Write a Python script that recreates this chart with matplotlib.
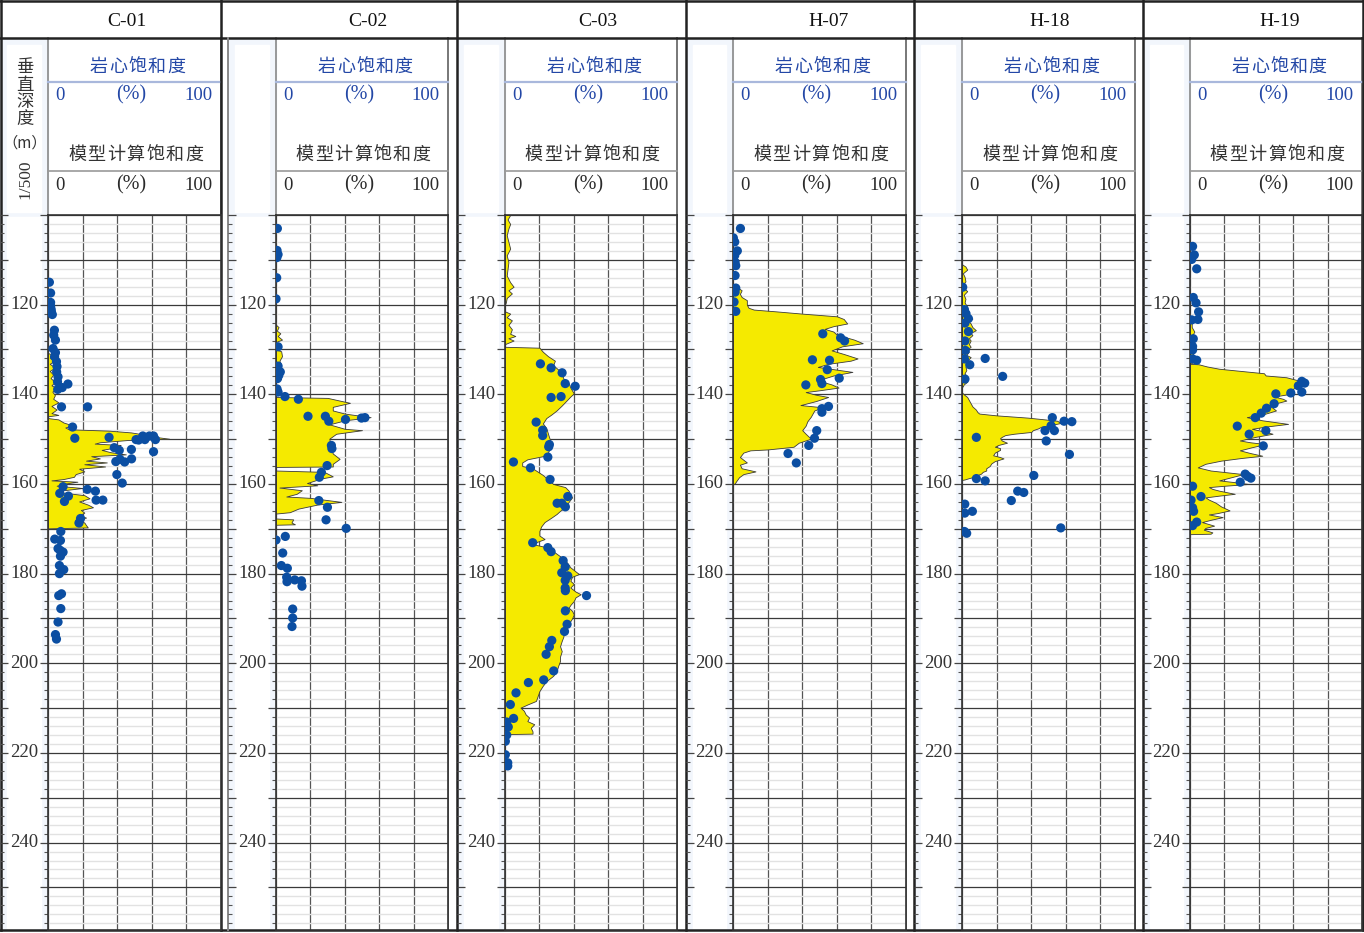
import matplotlib
matplotlib.use("Agg")
import matplotlib.pyplot as plt
from matplotlib.patches import Rectangle
from matplotlib.ticker import MultipleLocator

# ---- data ----
WELLS = ["C-01", "C-02", "C-03", "H-07", "H-18", "H-19"]
DEPTH_LABELS = [120, 140, 160, 180, 200, 220, 240]
SAT_TICKS = [0, 20, 40, 60, 80, 100]

# model (calculated) saturation curves: depth (m), saturation (%)
C01_MOD_D = [130.8, 131.2, 131.8, 132.4, 133.2, 134.0, 134.8, 135.6, 136.4, 137.2, 138.0, 138.6, 139.4,
             140.2, 141.0, 141.8, 142.6, 143.4, 144.2, 144.6, 144.9, 145.3, 145.6, 146.3, 146.9, 147.4,
             147.8, 148.1, 148.5, 149.0, 149.5, 149.9, 150.2, 150.7, 151.0, 151.3, 151.8, 152.4, 152.9,
             153.4, 153.8, 154.3, 154.8, 155.2, 155.6, 156.1, 156.6, 157.2, 157.8, 158.4, 158.9, 159.2,
             159.5, 159.9, 160.4, 160.9, 161.4, 161.9, 162.5, 163.2, 163.9, 164.6, 165.2, 165.8, 166.4,
             167.0, 167.5, 168.0, 168.6, 169.2, 169.7, 169.9]
C01_MOD_S = [0, 3, 1, 4, 1, 4, 1, 3, 1.5, 4, 2, 5, 2.5,
             4, 3, 6, 2, 5, 2, 6, 0, 0, 6, 9, 14, 10,
             12, 35, 48, 56, 62, 70, 46, 30, 27, 42, 40, 31, 36,
             45, 25, 30, 22, 34, 21, 33, 18, 21, 16, 15, 9, 2,
             17, 10, 5, 20, 9, 8, 21, 24, 18, 23, 26, 19, 21,
             18, 22, 16, 21, 22, 23, 0]

C02_MOD_D = [124.5, 125.0, 125.8, 126.4, 127.0, 127.8, 128.3, 130.0, 130.4, 131.5, 132.5, 133.4, 134.3,
             135.0, 135.8, 136.6, 137.3, 140.6, 140.8, 141.4, 141.9, 142.8, 143.6, 144.3, 145.1, 145.8,
             146.7, 147.7, 148.0, 148.8, 149.9, 151.8, 153.2, 154.4, 155.5, 156.1, 156.2, 157.0, 157.3,
             158.3, 158.8, 159.8, 160.3, 160.8, 161.4, 162.2, 162.8, 163.1, 164.0, 164.6, 165.5, 166.3,
             166.6, 167.7, 167.9, 168.6, 169.0, 169.1]
C02_MOD_S = [0, 1.5, 0.5, 2.5, 1, 3.5, 0, 0, 3, 3.5, 2, 3, 1.5,
             3, 1, 3, 0, 0, 30, 37, 43, 33, 33, 40, 55, 40,
             31, 40, 50, 35, 31, 32, 33, 37, 33, 33, 0, 0, 28,
             33, 26, 18, 24, 2, 15, 12, 6, 20, 38, 24, 13, 8,
             0, 0, 10, 9, 11, 0]

C03_MOD_D = [100.0, 101.0, 102.0, 103.0, 104.5, 106.0, 107.5, 109.0, 110.5, 112.0, 113.5, 115.0, 116.0,
             116.8, 117.5, 118.5, 119.5, 120.0, 121.5, 122.0, 122.8, 123.5, 124.5, 125.5, 126.5, 127.0,
             127.5, 128.0, 128.8, 129.4, 129.6, 130.5, 131.5, 132.5, 133.5, 134.5, 135.5, 136.5, 137.5,
             138.5, 139.8, 140.5, 141.3, 142.5, 143.6, 144.5, 145.3, 146.5, 147.5, 148.8, 150.0, 151.0,
             152.0, 153.0, 153.8, 154.5, 155.2, 156.0, 156.5, 157.0, 158.0, 159.0, 160.0, 160.7, 161.5,
             162.3, 163.0, 164.0, 165.2, 166.0, 166.7, 167.5, 168.5, 169.5, 170.5, 171.5, 172.3, 173.0,
             173.4, 174.2, 175.0, 176.4, 177.5, 178.6, 179.5, 180.1, 180.7, 181.6, 182.3, 183.1, 184.0,
             184.6, 185.3, 186.1, 187.0, 187.6, 188.3, 189.1, 190.0, 190.6, 191.8, 192.8, 194.0, 195.0,
             196.2, 197.3, 198.5, 199.5, 200.5, 201.7, 202.8, 204.0, 205.0, 206.2, 207.3, 208.4, 209.2,
             209.9, 210.6, 211.4, 212.1, 212.9, 213.6, 214.4, 215.2, 215.7, 215.8]
C03_MOD_S = [3, 1.5, 3, 2, 1, 2, 3, 1, 2, 1.5, 1, 3, 5,
             2, 4, 1, 0.5, 0, 0, 3, 1, 4, 2, 4, 3, 6,
             2, 5, 0, 0, 20, 22, 25, 29, 28, 31, 33, 34, 37,
             38, 40, 38, 36, 33, 30, 27, 24, 22, 24, 25, 26, 27,
             26, 25, 22, 13, 10, 10, 16, 18, 22, 25, 28, 35, 37,
             38, 39, 37, 35, 32, 30, 27, 23, 21, 20, 20, 23, 18,
             16, 25, 28, 33, 36, 38, 41, 43, 39, 38, 40, 38, 41,
             44, 41, 40, 38, 37, 39, 40, 39, 38, 36, 34, 34, 33,
             32, 33, 32, 32, 31, 30, 28, 24, 22, 20, 19, 18, 13,
             9, 11, 12, 14, 13, 17, 15, 16, 16, 0]

H07_MOD_D = [115.5, 116.0, 116.8, 117.6, 118.3, 119.0, 120.0, 120.7, 121.1, 121.5, 122.0, 122.6, 123.2,
             124.2, 124.8, 125.4, 126.0, 126.7, 127.8, 128.6, 129.3, 130.2, 131.0, 132.0, 132.5, 133.2,
             133.9, 134.5, 135.0, 135.8, 136.9, 137.8, 138.5, 139.1, 139.5, 140.1, 140.6, 141.5, 142.4,
             142.9, 143.6, 144.3, 145.0, 146.0, 147.0, 148.0, 148.8, 149.9, 150.8, 151.7, 152.3, 152.5,
             153.0, 154.0, 154.6, 155.2, 155.7, 156.5, 157.2, 157.8, 158.5, 159.3, 159.9, 160.0]
H07_MOD_S = [0, 2, 5, 4, 5, 8, 8, 9, 12, 25, 40, 60, 64,
             66, 58, 53, 58, 60, 70, 75, 63, 57, 64, 72, 68, 55,
             49, 60, 69, 58, 49, 57, 61, 50, 42, 48, 55, 48, 39,
             52, 47, 46, 45, 43, 42, 40, 42, 45, 38, 35, 20, 10,
             6, 4, 6, 8, 4, 5, 13, 6, 3.5, 2, 1, 0]

H18_MOD_D = [111.0, 111.5, 112.2, 113.0, 113.8, 114.8, 115.5, 116.2, 117.0, 117.8, 118.7, 119.5, 120.5,
             121.3, 122.0, 122.6, 123.1, 123.8, 124.2, 125.0, 125.7, 126.3, 126.8, 127.5, 128.0, 128.8,
             129.4, 130.0, 130.5, 131.2, 131.7, 132.5, 133.1, 133.8, 134.6, 135.3, 136.1, 136.7, 137.2,
             137.8, 138.2, 138.4, 139.6, 140.0, 140.6, 141.3, 142.0, 142.7, 143.4, 144.0, 144.3, 144.7,
             145.2, 145.6, 145.9, 146.4, 146.8, 147.2, 147.6, 148.0, 148.4, 148.8, 149.1, 149.5, 149.8,
             150.3, 150.8, 151.3, 151.7, 152.0, 152.4, 153.0, 153.6, 154.0, 154.3, 154.9, 155.4, 156.0,
             156.5, 157.0, 157.3, 157.7, 158.0, 158.4, 158.7, 159.0, 159.1]
H18_MOD_S = [0, 2, 3, 0.5, 1.5, 2, 0.5, 1, 3, 1, 2, 1.5, 3,
             2.5, 4, 3, 6, 4, 5, 6, 8, 5, 6, 4, 5, 4,
             5, 3, 4, 2.5, 5, 3, 4, 2, 2.5, 1.5, 3, 2, 3,
             1, 0.5, 0, 0, 1, 3, 4, 5, 6, 8, 9, 10, 20,
             38, 48, 55, 57, 52, 46, 44, 41, 40, 30, 25, 23, 22,
             23, 26, 21, 19, 22, 22, 19, 18, 22, 24, 19, 17, 16,
             14, 14, 12, 11, 9, 7, 4, 1.5, 0]

H19_MOD_D = [122.8, 123.2, 124.0, 125.0, 126.0, 126.8, 127.5, 128.3, 129.0, 129.8, 130.5, 131.2, 132.0,
             132.5, 133.0, 133.2, 133.3, 133.8, 134.3, 134.8, 135.3, 135.8, 136.2, 136.8, 137.3, 137.8,
             138.2, 138.8, 139.4, 139.9, 140.3, 140.6, 141.0, 141.4, 142.0, 142.5, 143.0, 143.6, 144.3,
             145.1, 145.8, 146.6, 147.2, 147.7, 148.2, 148.8, 149.5, 150.3, 150.7, 151.1, 151.8, 152.5,
             153.1, 153.7, 154.2, 154.8, 155.5, 156.3, 157.0, 157.8, 158.5, 159.2, 159.6, 160.0, 160.4,
             160.7, 161.1, 161.5, 162.2, 162.6, 163.0, 163.5, 164.2, 165.0, 165.9, 166.5, 166.8, 167.4,
             168.0, 168.5, 169.3, 169.8, 170.2, 170.8, 171.1, 171.2]
H19_MOD_S = [0, 2, 1, 1, 2.5, 1.5, 2, 1, 3, 2, 2.5, 1.5, 3,
             4, 1, 0, 5, 10, 17, 30, 43, 44, 56, 62, 67, 63,
             61, 60, 59, 58, 52, 50, 54, 56, 50, 46, 48, 50, 44,
             33, 42, 57, 44, 36, 42, 48, 38, 29, 35, 44, 36, 29,
             35, 42, 30, 18, 9, 4.5, 12, 31, 24, 17, 26, 34, 20,
             11, 13, 17, 26, 17, 9, 11, 15, 18, 23, 16, 11, 19,
             12, 7, 14, 9, 8, 13, 12, 0]

# core saturation samples: depth (m), saturation (%)
C01_CORE_D = [115.0, 117.4, 119.5, 120.3, 121.0, 121.6, 122.2, 125.7, 126.8, 127.9, 129.8, 130.7, 131.6,
              132.7, 133.8, 135.0, 136.1, 137.2, 138.5, 137.7, 138.9, 142.8, 142.8, 147.3, 149.8, 149.6,
              150.1, 150.2, 149.3, 150.1, 149.3, 149.3, 150.1, 151.9, 152.5, 152.3, 152.8, 155.0, 154.5,
              155.1, 154.4, 157.9, 159.8, 160.6, 162.1, 161.2, 161.6, 162.7, 163.9, 163.6, 163.6, 167.7,
              168.7, 170.6, 172.3, 172.6, 174.4, 174.8, 175.2, 176.1, 178.2, 179.1, 180.0, 184.5, 184.9,
              187.8, 190.8, 193.6, 194.6]
C01_CORE_S = [0.8, 1.5, 1.5, 1.5, 1.8, 2, 2.5, 3.7, 3.3, 4.3, 2.9, 4.3, 3.8,
              4.9, 5.2, 5.0, 5.8, 5.5, 8.2, 11.5, 5.6, 7.8, 22.9, 14.2, 15.5, 35.3,
              50.9, 52.4, 54.8, 56.0, 58.6, 61.0, 62.1, 38.3, 41.2, 48.2, 61.0, 39.2, 41.6,
              44.3, 48.3, 39.8, 42.9, 8.7, 6.8, 22.7, 27.4, 11.8, 9.5, 27.8, 31.7, 18.8,
              17.9, 7.4, 3.9, 7.2, 5.8, 7.0, 8.7, 7.2, 6.6, 9.1, 6.6, 7.8, 6.2,
              7.4, 5.8, 4.3, 4.9]

C02_CORE_D = [103.0, 107.9, 108.8, 109.5, 114.0, 118.7, 129.4, 133.7, 135.0, 135.8, 136.5, 138.8, 139.5,
              140.5, 141.1, 144.9, 144.9, 146.0, 145.6, 145.3, 145.2, 151.4, 152.1, 155.9, 157.4, 158.5,
              163.7, 165.2, 168.0, 169.9, 171.7, 172.5, 175.4, 178.2, 178.8, 180.8, 181.8, 181.4, 181.6,
              182.8, 187.9, 189.9, 191.8]
C02_CORE_S = [0.8, 0.6, 1.2, 0.5, 0.4, 0, 1.2, 1.2, 2.5, 1.6, 0.8, 0.6, 1.2,
              5.2, 13.0, 18.6, 28.7, 30.7, 40.4, 49.7, 51.7, 32.2, 32.5, 29.7, 26.4, 25.2,
              24.9, 29.9, 29.1, 40.8, 5.4, 0, 3.9, 3.1, 6.6, 6.2, 6.4, 10.9, 14.8,
              15.1, 9.7, 9.7, 9.3]

C03_CORE_D = [133.2, 134.1, 135.2, 137.6, 138.2, 140.7, 140.5, 146.2, 148.0, 149.2, 151.2, 151.7, 154.0,
              155.1, 156.4, 159.0, 162.8, 164.3, 164.3, 165.1, 173.1, 174.2, 175.1, 177.1, 178.5, 179.8,
              180.5, 181.5, 183.2, 183.8, 184.9, 188.3, 191.3, 192.9, 194.9, 196.3, 198.0, 201.7, 203.7,
              204.3, 206.6, 209.2, 212.3, 213.1, 214.2, 216.0, 217.4, 220.4, 222.2, 222.9]
C03_CORE_S = [20.6, 26.8, 33.2, 35.0, 40.8, 26.8, 32.6, 18.1, 21.9, 21.9, 25.8, 25.4, 24.9,
              4.9, 14.8, 26.2, 36.5, 30.3, 33.0, 35.1, 16.1, 24.9, 26.8, 33.8, 35.0, 33.0,
              36.5, 35.0, 35.0, 35.1, 47.4, 35.1, 36.1, 34.6, 27.2, 25.8, 23.9, 28.3, 22.5,
              13.6, 6.4, 3.1, 5.0, 1.0, 1.9, 1.0, 0.2, 0.2, 1.6, 1.6]

H07_CORE_D = [103.0, 105.1, 106.0, 108.0, 109.0, 110.5, 111.3, 113.5, 116.3, 117.2, 119.4, 121.5, 126.5,
              127.4, 128.1, 132.3, 132.4, 134.5, 136.7, 137.6, 136.4, 137.9, 142.7, 143.2, 144.0, 148.1,
              149.8, 151.4, 153.2, 155.3]
H07_CORE_S = [4.3, 0.2, 1.0, 2.5, 1.0, 1.2, 1.6, 1.2, 1.6, 1.2, 0.6, 1.6, 51.9,
              62.2, 64.5, 45.9, 55.8, 54.5, 50.6, 51.4, 61.4, 42.1, 55.2, 51.4, 51.4, 48.4,
              47.1, 43.8, 31.8, 36.6]

H18_CORE_D = [116.1, 121.1, 122.0, 123.1, 124.1, 126.0, 128.1, 130.2, 132.1, 133.4, 132.0, 136.6, 136.0,
              145.2, 146.0, 146.1, 147.0, 148.1, 148.1, 149.6, 150.4, 153.4, 158.1, 158.8, 159.3, 161.6,
              161.9, 163.7, 164.5, 166.5, 166.1, 169.8, 170.6, 171.0]
H18_CORE_S = [0.4, 1.4, 2.3, 3.7, 1.7, 3.7, 1.7, 1.9, 1.4, 4.5, 13.4, 1.7, 23.5,
              52.2, 59.0, 63.5, 51.5, 48.0, 53.4, 8.3, 48.7, 62.1, 41.5, 8.3, 13.4, 32.2,
              35.7, 28.5, 1.6, 1.6, 6.0, 57.1, 1.4, 2.7]

H19_CORE_D = [107.0, 108.9, 109.9, 112.0, 118.4, 119.6, 121.6, 123.3, 123.4, 127.6, 129.3, 130.1, 132.1,
              132.4, 137.1, 137.5, 138.1, 139.5, 139.7, 139.9, 142.1, 143.1, 144.2, 145.2, 147.1, 148.1,
              148.9, 151.5, 157.8, 158.3, 158.7, 159.6, 160.5, 162.8, 163.6, 165.3, 166.1, 168.5, 169.3]
H19_CORE_S = [1.5, 2.5, 1.0, 3.9, 1.9, 3.5, 5.0, 4.6, 1.0, 1.9, 1.5, 1.5, 1.5,
              3.9, 65.0, 66.7, 63.0, 65.0, 58.6, 49.9, 48.9, 44.5, 41.4, 37.9, 27.5, 44.1,
              34.4, 42.6, 32.1, 33.5, 35.4, 29.2, 1.5, 6.4, 0.6, 1.5, 2.1, 3.9, 1.5]

MODEL = [(C01_MOD_D, C01_MOD_S), (C02_MOD_D, C02_MOD_S), (C03_MOD_D, C03_MOD_S),
         (H07_MOD_D, H07_MOD_S), (H18_MOD_D, H18_MOD_S), (H19_MOD_D, H19_MOD_S)]
CORE = [(C01_CORE_D, C01_CORE_S), (C02_CORE_D, C02_CORE_S), (C03_CORE_D, C03_CORE_S),
        (H07_CORE_D, H07_CORE_S), (H18_CORE_D, H18_CORE_S), (H19_CORE_D, H19_CORE_S)]

# ---- layout (pixels) ----
W, H = 1364, 933
TOP, BOT = 215, 930
D_TOP, D_BOT = 100, 259.5
# box left, box right, depth column left, data left, data right, name x
LAYOUT = [(0, 221, 0, 48, 221, 127),
          (221, 457, 228, 276, 448, 368),
          (457, 686, 457, 505, 677, 598),
          (686, 914, 686, 733, 906, 829),
          (914, 1143, 914, 962, 1135, 1050),
          (1143, 1364, 1143, 1190, 1362, 1280)]

SERIF = ["Liberation Serif", "DejaVu Serif"]
CJK = ["Noto Sans CJK SC", "DejaVu Sans"]
BLUE_TXT = "#2347a6"
DARK = "#2a2a2a"
YELLOW = "#f5ea00"
DOT = "#0b4ea2"

fig = plt.figure(figsize=(W / 100, H / 100), dpi=100)
bg = fig.add_axes([0, 0, 1, 1])
bg.set_xlim(0, W)
bg.set_ylim(H, 0)
bg.axis("off")


def fax(x0, x1):
    return [x0 / W, (H - BOT) / H, (x1 - x0) / W, (BOT - TOP) / H]


def spaced(ax, cx, y, txt, pitch, **kw):
    # Chinese header text is drawn with extra letter spacing
    n = len(txt)
    for k, ch in enumerate(txt):
        ax.text(cx + (k - (n - 1) / 2) * pitch, y, ch, ha="center", va="center", **kw)


for i, name in enumerate(WELLS):
    bl, br, dcl, dl, dr, nx = LAYOUT[i]
    cx = (dl + dr) / 2

    # depth column background
    bg.add_patch(Rectangle((dcl, 38), dl - dcl, BOT - 38, color="#f2f6fc", zorder=0))
    bg.add_patch(Rectangle((dcl + 7, 45), dl - dcl - 14, 167, color="white", zorder=0.5))
    bg.add_patch(Rectangle((dcl + 7, TOP + 2), dl - dcl - 14, BOT - TOP - 4, color="white", zorder=0.5))

    # header lines
    bg.plot([dl, dl], [38, TOP], color="#888", lw=1.2)
    bg.plot([dr, dr], [38, BOT], color="#777", lw=1.4)
    bg.plot([dl, dr], [82, 82], color="#a9b8dc", lw=1.6)
    bg.plot([dl, dr], [171, 171], color="#999", lw=1.2)

    # header texts
    bg.text(nx, 21, name, ha="center", va="center", fontsize=14, family=SERIF, color="#111")
    spaced(bg, cx + 3, 67, "岩心饱和度", 19.3, fontsize=13, family=CJK, color=BLUE_TXT)
    bg.text(dl + 7, 95, "0", ha="left", va="center", fontsize=13.5, family=SERIF, color=BLUE_TXT)
    bg.text(cx - 3, 95, "(%)", ha="center", va="center", fontsize=14.5, family=SERIF, color=BLUE_TXT)
    bg.text(dr - 8, 95, "100", ha="right", va="center", fontsize=13.5, family=SERIF, color=BLUE_TXT)
    spaced(bg, cx + 1, 155, "模型计算饱和度", 19.5, fontsize=13, family=CJK, color="#333")
    bg.text(dl + 7, 185, "0", ha="left", va="center", fontsize=13.5, family=SERIF, color=DARK)
    bg.text(cx - 3, 185, "(%)", ha="center", va="center", fontsize=14.5, family=SERIF, color=DARK)
    bg.text(dr - 8, 185, "100", ha="right", va="center", fontsize=13.5, family=SERIF, color=DARK)

    # depth column axes (ticks + labels)
    dax = fig.add_axes(fax(dcl, dl))
    dax.set_facecolor("none")
    dax.set_xlim(0, 1)
    dax.set_ylim(D_BOT, D_TOP)
    for s in dax.spines.values():
        s.set_visible(False)
    dax.set_xticks([])
    dax.yaxis.set_major_locator(MultipleLocator(10))
    dax.yaxis.set_minor_locator(MultipleLocator(2))
    dax.tick_params(axis="y", which="major", direction="in", length=6, width=0.9,
                    color="#444", labelleft=False)
    dax.tick_params(axis="y", which="minor", direction="in", length=3, width=0.8, color="#555")
    for d in DEPTH_LABELS:
        dax.text(0.5, d, str(d), ha="center", va="center", fontsize=13.5, family=SERIF, color="#333")

    # data axes
    ax = fig.add_axes(fax(dl, dr))
    ax.set_xlim(0, 100)
    ax.set_ylim(D_BOT, D_TOP)
    ax.set_axisbelow(True)
    ax.set_xticks(SAT_TICKS)
    ax.yaxis.set_major_locator(MultipleLocator(10))
    ax.yaxis.set_minor_locator(MultipleLocator(2))
    ax.grid(axis="x", color="#555", lw=0.9)
    ax.grid(axis="y", which="major", color="#3a3a3a", lw=0.9)
    ax.grid(axis="y", which="minor", color="#e2e2e2", lw=1.0)
    ax.tick_params(axis="x", length=0, labelbottom=False)
    ax.tick_params(axis="y", which="major", direction="out", length=6, width=0.9,
                   color="#444", labelleft=False)
    ax.tick_params(axis="y", which="minor", direction="out", length=3, width=0.8, color="#555")
    for side, s in ax.spines.items():
        s.set_color("#333")
        s.set_linewidth(1.2)

    md, ms = MODEL[i]
    ax.fill_betweenx(md, 0, ms, facecolor=YELLOW, edgecolor="#3a3a3a", lw=0.6, zorder=2)
    cd, cs = CORE[i]
    ax.scatter(cs, cd, s=44, color=DOT, edgecolors="none", zorder=3)

# frame / well boundary lines
bg.plot([0, W], [0.8, 0.8], color="#222", lw=1.8, zorder=5)
bg.plot([0, W], [38, 38], color="#222", lw=1.8, zorder=5)
bg.plot([0.8, 0.8], [0, BOT], color="#222", lw=1.8, zorder=5)
bg.plot([W - 1, W - 1], [0, BOT], color="#222", lw=1.8, zorder=5)
bg.plot([0, W], [BOT, BOT], color="#222", lw=1.8, zorder=5)
for i in range(1, len(WELLS)):
    x = LAYOUT[i][0]
    bg.plot([x, x], [0, BOT], color="#222", lw=1.8, zorder=5)
bg.plot([228, 228], [38, BOT], color="#888", lw=1.4, zorder=5)

# depth title in the first depth column
for ch, y in zip("垂直深度", [67, 85, 102, 119]):
    bg.text(25, y, ch, ha="center", va="center", fontsize=12.5, family=CJK, color="#333")
bg.text(25, 143, "（m）", ha="center", va="center", fontsize=11, family=CJK, color="#333")
bg.text(25, 179, "1/500", ha="center", va="center", rotation=90, fontsize=12.5,
        family=SERIF, color="#333")

fig.savefig("out.png", dpi=100)
